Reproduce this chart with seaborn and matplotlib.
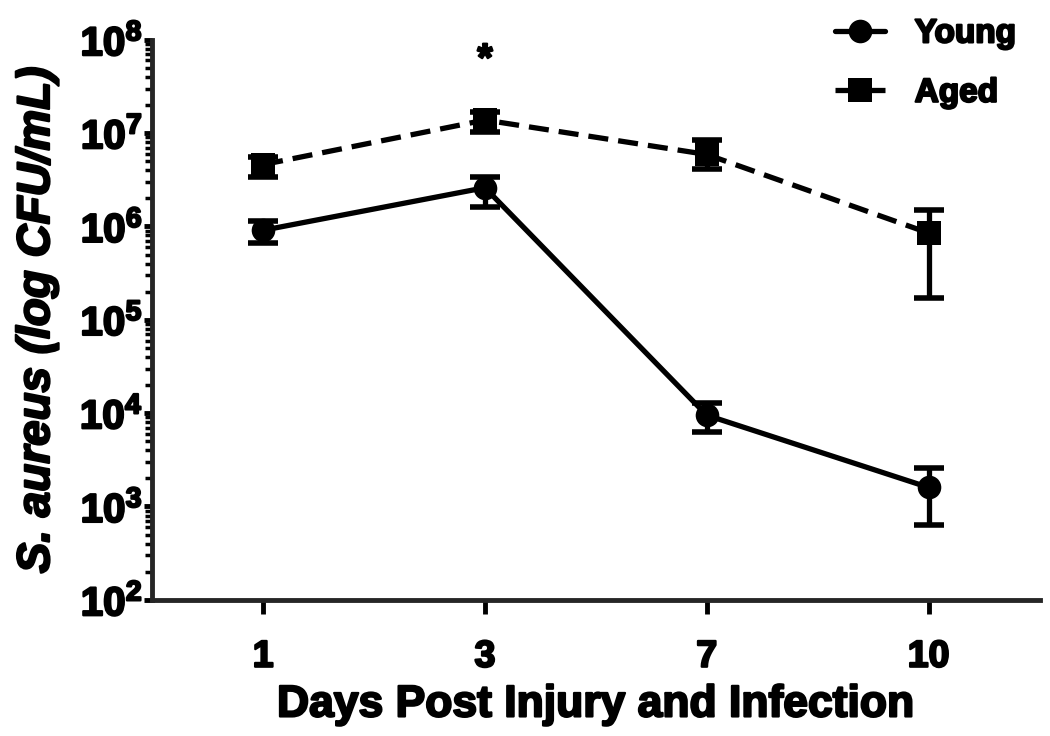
import numpy as np
import pandas as pd
import matplotlib
matplotlib.use("Agg")
import matplotlib.pyplot as plt
import matplotlib.ticker as mticker
import matplotlib.patheffects as pe
import seaborn as sns

# =========================
# Data
# =========================
days = ["1", "3", "7", "10"]
young_mean = [9.1e5, 2.6e6, 9.5e3, 1.6e3]
young_low = [6.6e5, 1.6e6, 6.3e3, 6.3e2]
young_high = [1.15e6, 3.4e6, 1.3e4, 2.6e3]
aged_mean = [4.6e6, 1.38e7, 5.9e6, 8.5e5]
aged_low = [3.4e6, 1.03e7, 4.1e6, 1.7e5]
aged_high = [5.6e6, 1.7e7, 8.5e6, 1.5e6]
star_day = "3"
star_y = 6.0e7

# =========================
# Style
# =========================
sns.set_style("ticks")
plt.rcParams['font.family'] = ['Liberation Sans', 'DejaVu Sans']
plt.rcParams['font.weight'] = 'bold'
plt.rcParams['text.color'] = 'black'
plt.rcParams['axes.labelcolor'] = 'black'
plt.rcParams['xtick.color'] = 'black'
plt.rcParams['ytick.color'] = 'black'
plt.rcParams['mathtext.fontset'] = 'custom'
plt.rcParams['mathtext.rm'] = 'Liberation Sans:bold'
plt.rcParams['mathtext.bf'] = 'Liberation Sans:bold'
plt.rcParams['mathtext.default'] = 'bf'

heavy = [pe.withStroke(linewidth=1.6, foreground="black")]

pos = np.arange(len(days))
df = pd.DataFrame({
    "x": np.concatenate([pos, pos]),
    "cfu": young_mean + aged_mean,
    "group": ["Young"] * len(days) + ["Aged"] * len(days),
})

fig = plt.figure(figsize=(10.5, 7.36), dpi=100)
ax = fig.add_axes([0.145, 0.185, 0.845, 0.761])

# error bars
for mean, lo, hi in [(young_mean, young_low, young_high), (aged_mean, aged_low, aged_high)]:
    mean = np.array(mean)
    yerr = [mean - np.array(lo), np.array(hi) - mean]
    ax.errorbar(pos, mean, yerr=yerr, fmt="none", ecolor="black",
                elinewidth=3.8, capsize=11, capthick=4, zorder=2)

sns.lineplot(data=df, x="x", y="cfu", hue="group", style="group",
             hue_order=["Young", "Aged"], style_order=["Young", "Aged"],
             palette=["black", "black"],
             markers={"Young": "o", "Aged": "s"},
             dashes={"Young": "", "Aged": (3.8, 1.9)},
             markersize=17, markeredgewidth=0, linewidth=3.8,
             ax=ax, zorder=3)

ax.set_yscale("log")
ax.set_ylim(1e2, 1e8)
ax.set_xlim(-0.5, 3.5)
ax.set_xticks(pos)
ax.set_xticklabels(days)
ax.yaxis.set_major_locator(mticker.LogLocator(base=10, numticks=10))
ax.yaxis.set_minor_locator(mticker.LogLocator(base=10, subs=np.arange(2, 10), numticks=50))
ax.yaxis.set_minor_formatter(mticker.NullFormatter())
ax.yaxis.set_major_formatter(mticker.FuncFormatter(lambda v, p: r"$10^{%d}$" % round(np.log10(v))))

ax.tick_params(axis="both", which="major", width=3.5, length=8)
ax.tick_params(axis="x", labelsize=27, pad=18, length=10)
ax.tick_params(axis="y", labelsize=29, pad=1, length=6)
ax.tick_params(axis="y", which="minor", width=2.5, length=5)
for lab in ax.get_xticklabels() + ax.get_yticklabels():
    lab.set_path_effects(heavy)

for side in ["left", "bottom"]:
    ax.spines[side].set_linewidth(3.5)
sns.despine(ax=ax)

ax.set_xlabel("Days Post Injury and Infection", fontsize=32, fontweight="bold",
              labelpad=7, path_effects=heavy)
ax.set_ylabel("S. aureus (log CFU/mL)", fontsize=33, fontweight="bold", style="italic",
              labelpad=15, path_effects=heavy)

# significance marker
ax.text(days.index(star_day), star_y, "*", fontsize=28, fontweight="bold",
        ha="center", va="center", path_effects=heavy)

handles, labels = ax.get_legend_handles_labels()
leg = ax.legend(handles, labels, loc="upper left", bbox_to_anchor=(0.795, 0.975),
                bbox_transform=fig.transFigure, frameon=False, borderpad=0,
                borderaxespad=0, handlelength=1.5, labelspacing=0.85,
                handletextpad=0.9, prop={"weight": "bold", "size": 24})
for t in leg.get_texts():
    t.set_path_effects(heavy)

plt.savefig("out.png", dpi=100)
